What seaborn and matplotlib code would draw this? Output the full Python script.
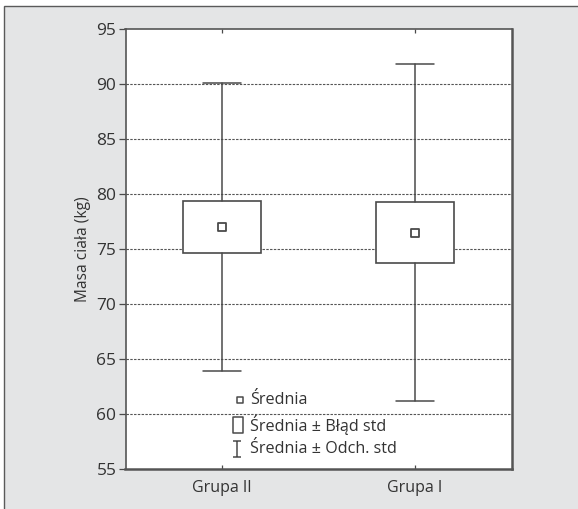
import matplotlib
matplotlib.use("Agg")
import matplotlib.pyplot as plt
import matplotlib.patches as mpatches
from matplotlib.path import Path
import seaborn as sns
import pandas as pd

# Summary statistics of body mass per group
groups = ["Grupa II", "Grupa I"]
means = [77.0, 76.5]
std_err = [2.4, 2.8]
std_dev = [13.1, 15.35]

y_ticks = [55, 60, 65, 70, 75, 80, 85, 90, 95]
legend_labels = ["Średnia", "Średnia ± Błąd std", "Średnia ± Odch. std"]

df = pd.DataFrame({"grupa": groups, "srednia": means, "se": std_err, "sd": std_dev})
df["pos"] = range(len(df))

sns.set_theme(style="white")
plt.rcParams["font.family"] = ["Open Sans", "DejaVu Sans"]

line_col = "#4a4a4a"
text_col = "#333333"

fig = plt.figure(figsize=(5.78, 5.09), dpi=100)
fig.patch.set_facecolor("white")

# gray panel behind the chart
panel = mpatches.Rectangle((4 / 578, -0.2), 2.0, 1.2 - 6 / 509,
                           transform=fig.transFigure, facecolor="#e4e5e6",
                           edgecolor="#5a5a5a", linewidth=1.0, zorder=-5)
fig.patches.append(panel)

ax = fig.add_axes([125.5 / 578, 1 - 469 / 509, 386 / 578, 440 / 509])
ax.set_zorder(2)
ax.set_facecolor("white")

# box = mean ± SE, whiskers = mean ± SD
stats = []
for _, r in df.iterrows():
    stats.append(dict(label=r["grupa"], med=r["srednia"], mean=r["srednia"],
                      q1=r["srednia"] - r["se"], q3=r["srednia"] + r["se"],
                      whislo=r["srednia"] - r["sd"], whishi=r["srednia"] + r["sd"],
                      fliers=[]))

ax.bxp(stats, positions=df["pos"].tolist(), widths=0.4, capwidths=0.2,
       showfliers=False, patch_artist=True,
       boxprops=dict(facecolor="white", edgecolor=line_col, linewidth=1.2),
       whiskerprops=dict(color=line_col, linewidth=1.1),
       capprops=dict(color=line_col, linewidth=1.1),
       medianprops=dict(linewidth=0),
       zorder=3)

sns.scatterplot(data=df, x="pos", y="srednia", marker="s", s=30,
                facecolor="white", edgecolor=line_col, linewidth=1.3,
                zorder=5, ax=ax, legend=False)

ax.set_xlim(-0.5, 1.5)
ax.set_ylim(55, 95)
ax.set_yticks(y_ticks)
ax.set_xticks(df["pos"].tolist())
ax.set_xticklabels(groups)

for y in y_ticks[1:-1]:
    ax.axhline(y, color="#555555", linewidth=0.8, linestyle=(0, (2.2, 1.2)), zorder=1)

ax.tick_params(axis="y", direction="out", length=5, width=0.9, color=line_col,
               pad=1.5, labelsize=12.5, labelcolor=text_col, left=True)
ax.tick_params(axis="x", direction="in", length=3, width=0.9, color=line_col,
               pad=8, labelsize=11.5, labelcolor=text_col, bottom=True, top=True)

ax.set_xlabel("")
ax.set_ylabel("Masa ciała (kg)", fontsize=11.2, color=text_col, labelpad=4)

for s in ax.spines.values():
    s.set_color("#555555")
    s.set_linewidth(1.2)
ax.spines["right"].set_linewidth(1.8)
ax.spines["bottom"].set_linewidth(1.8)

# legend drawn inside the plot area
small_sq = Path([(-1, -1), (1, -1), (1, 1), (-1, 1), (-1, -1)],
                [Path.MOVETO, Path.LINETO, Path.LINETO, Path.LINETO, Path.CLOSEPOLY])
tall_rect = Path([(-0.6, -1), (0.6, -1), (0.6, 1), (-0.6, 1), (-0.6, -1)],
                 [Path.MOVETO, Path.LINETO, Path.LINETO, Path.LINETO, Path.CLOSEPOLY])
ibeam = Path([(-0.45, 1), (0.45, 1), (0, 1), (0, -1), (-0.45, -1), (0.45, -1)],
             [Path.MOVETO, Path.LINETO, Path.MOVETO, Path.LINETO, Path.MOVETO, Path.LINETO])

rows_y = [0.157, 0.100, 0.045]
icons = [(small_sq, 5.0, 0.296), (tall_rect, 11.0, 0.291), (ibeam, 11.5, 0.290)]
for (mk, ms, ix), yy, lab in zip(icons, rows_y, legend_labels):
    ax.plot([ix], [yy], marker=mk, markersize=ms, markerfacecolor="white",
            markeredgecolor=line_col, markeredgewidth=1.1, linestyle="none",
            transform=ax.transAxes, zorder=6, clip_on=False)
    ax.text(0.3225, yy, lab, transform=ax.transAxes, fontsize=11.6,
            color=text_col, va="center", ha="left", zorder=6)

fig.savefig("out.png", dpi=100, facecolor=fig.get_facecolor())
